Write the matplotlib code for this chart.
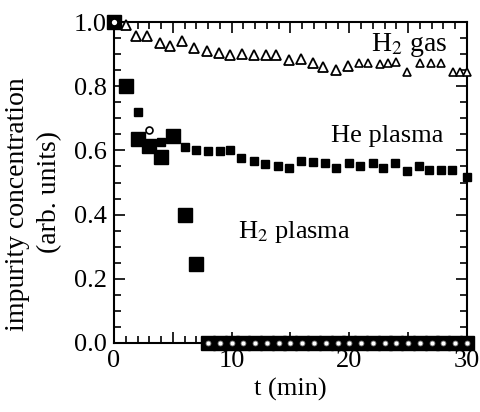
import matplotlib
matplotlib.use("Agg")
import matplotlib.pyplot as plt
from matplotlib.ticker import MultipleLocator, FuncFormatter

plt.rcParams.update({
    "font.family": "Liberation Serif",
    "mathtext.fontset": "stix",
    "font.size": 15,
})

# H2 gas (open triangles)
gas_t = [1.0, 1.9, 2.8, 3.9, 4.8, 5.8, 6.8, 7.9, 8.9, 9.9, 10.9, 11.9, 12.9, 13.8,
         14.9, 15.9, 16.9, 17.8, 18.9, 19.9, 20.8, 21.6, 22.6, 23.3, 24.0, 24.9,
         26.0, 26.9, 27.8, 28.8, 29.4, 30.0]
gas_v = [0.99, 0.955, 0.955, 0.935, 0.925, 0.94, 0.918, 0.911, 0.904, 0.897, 0.899,
         0.897, 0.897, 0.897, 0.882, 0.885, 0.871, 0.861, 0.850, 0.863, 0.871,
         0.871, 0.869, 0.873, 0.876, 0.845, 0.871, 0.871, 0.871, 0.845, 0.845, 0.845]

# He plasma (small filled squares)
he_t = [2, 4, 6, 7, 8, 9, 9.9, 10.8, 11.9, 12.8, 13.9, 14.9, 15.9, 16.9, 17.9, 18.9,
        20.0, 20.9, 22.0, 22.9, 23.9, 24.9, 25.9, 26.8, 27.8, 28.7, 30.0]
he_v = [0.72, 0.627, 0.612, 0.60, 0.599, 0.599, 0.601, 0.575, 0.568, 0.557, 0.551,
        0.544, 0.568, 0.563, 0.56, 0.546, 0.56, 0.551, 0.56, 0.544, 0.56, 0.537,
        0.551, 0.539, 0.539, 0.539, 0.518]

# H2 plasma (large filled squares)
h2p_t = [0, 1, 2, 3, 4, 5, 6, 7] + list(range(8, 31))
h2p_v = [1.0, 0.80, 0.635, 0.615, 0.58, 0.645, 0.40, 0.245] + [0.0] * 23

# open circles drawn over some of the points
circ_t = [0, 3] + list(range(8, 31))
circ_v = [1.0, 0.663] + [0.0] * 23

fig = plt.figure(figsize=(4.8, 4.12), dpi=100)
ax = fig.add_axes([0.2375, 0.1675, 0.7354, 0.779])

# triangles get a bit smaller in the second half of the run
n_big = 20
ax.plot(gas_t[:n_big], gas_v[:n_big], ls="none", marker="^", ms=6.8, mfc="white",
        mec="black", mew=1.3, clip_on=False, zorder=3)
ax.plot(gas_t[n_big:], gas_v[n_big:], ls="none", marker="^", ms=5.5, mfc="white",
        mec="black", mew=1.2, clip_on=False, zorder=3)
ax.plot(h2p_t, h2p_v, ls="none", marker="s", ms=10, mfc="black", mec="black",
        clip_on=False, zorder=4)
ax.plot(he_t, he_v, ls="none", marker="s", ms=6, mfc="black", mec="black",
        clip_on=False, zorder=4)
ax.plot(circ_t[:2], circ_v[:2], ls="none", marker="o", ms=5, mfc="white", mec="black",
        mew=1.2, clip_on=False, zorder=5)
ax.plot(circ_t[2:], circ_v[2:], ls="none", marker="o", ms=3.5, mfc="white", mec="#888888",
        mew=0.6, clip_on=False, zorder=5)

ax.set_xlim(0, 30)
ax.set_ylim(0, 1.0)
ax.xaxis.set_major_locator(MultipleLocator(5))
ax.xaxis.set_minor_locator(MultipleLocator(1))
ax.xaxis.set_major_formatter(FuncFormatter(lambda v, p: f"{v:.0f}" if v % 10 == 0 else ""))
ax.yaxis.set_major_locator(MultipleLocator(0.2))
ax.yaxis.set_minor_locator(MultipleLocator(0.05))
ax.yaxis.set_major_formatter(FuncFormatter(lambda v, p: f"{v:.1f}"))
ax.tick_params(which="both", direction="in", top=True, right=True, width=1.2,
               labelsize=19, pad=5)
ax.tick_params(which="major", length=8)
ax.tick_params(which="minor", length=5)
for s in ax.spines.values():
    s.set_linewidth(1.5)

ax.set_xlabel("t (min)", fontsize=19, labelpad=4)

# two-line y label, placed line by line
fig.text(18 / 480, 1 - 204 / 412, "impurity concentration", rotation=90,
         ha="center", va="center", fontsize=20)
fig.text(50 / 480, 1 - 192 / 412, "(arb. units)", rotation=90,
         ha="center", va="center", fontsize=20)

ax.text(21.8, 0.91, "H$_2$ gas", fontsize=20)
ax.text(18.4, 0.626, "He plasma", fontsize=19)
ax.text(10.5, 0.327, "H$_2$ plasma", fontsize=19)

fig.savefig("out.png", dpi=100)
